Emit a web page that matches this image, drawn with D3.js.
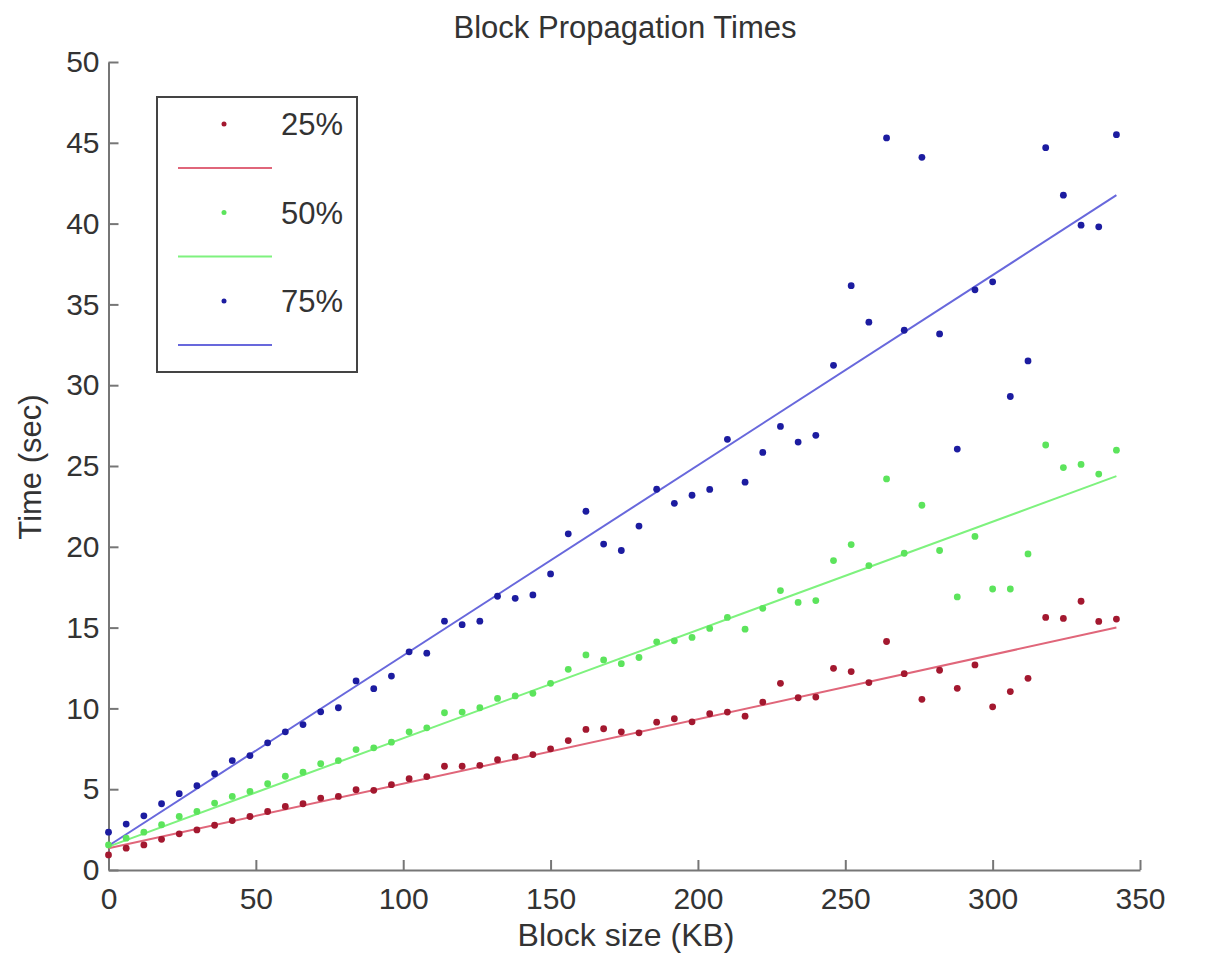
<!DOCTYPE html>
<html>
<head>
<meta charset="utf-8">
<script src="https://cdn.jsdelivr.net/npm/d3@7"></script>
<style>
  body { margin: 0; background: #fff; }
  text { font-family: "Liberation Sans", Arial, sans-serif; fill: #333; }
</style>
</head>
<body>
<div id="chart"></div>
<script>
const width = 1222;
const height = 958;

// block size (KB)
const blockSizes = [0, 6, 12, 18, 24, 30, 36, 42, 48, 54, 60, 66, 72, 78, 84, 90, 96, 102, 108, 114,
  120, 126, 132, 138, 144, 150, 156, 162, 168, 174, 180, 186, 192, 198, 204, 210, 216, 222, 228, 234,
  240, 246, 252, 258, 264, 270, 276, 282, 288, 294, 300, 306, 312, 318, 324, 330, 336, 342];

// propagation time (sec)
const p25 = [0.93, 1.35, 1.55, 1.9, 2.24, 2.48, 2.77, 3.06, 3.31, 3.62, 3.93, 4.1, 4.45, 4.55, 4.97, 4.93,
  5.28, 5.65, 5.78, 6.42, 6.42, 6.48, 6.83, 7.0, 7.14, 7.5, 8.01, 8.7, 8.74, 8.55, 8.49, 9.15, 9.36, 9.17,
  9.67, 9.77, 9.52, 10.39, 11.55, 10.66, 10.7, 12.48, 12.28, 11.6, 14.14, 12.15, 10.56, 12.36, 11.24,
  12.69, 10.1, 11.04, 11.86, 15.63, 15.57, 16.63, 15.38, 15.53];

const p50 = [1.55, 1.97, 2.34, 2.8, 3.31, 3.62, 4.14, 4.55, 4.86, 5.34, 5.8, 6.05, 6.58, 6.77, 7.45, 7.56,
  7.91, 8.55, 8.8, 9.73, 9.77, 10.04, 10.62, 10.77, 10.93, 11.55, 12.42, 13.31, 13.0, 12.77, 13.15, 14.12,
  14.18, 14.39, 14.95, 15.63, 14.9, 16.19, 17.29, 16.56, 16.67, 19.15, 20.14, 18.84, 24.2, 19.6, 22.57,
  19.77, 16.9, 20.64, 17.39, 17.39, 19.56, 26.3, 24.9, 25.1, 24.5, 25.98];

const p75 = [2.34, 2.84, 3.35, 4.1, 4.72, 5.22, 5.96, 6.77, 7.08, 7.87, 8.55, 9.0, 9.79, 10.04, 11.7, 11.22,
  12.0, 13.5, 13.42, 15.4, 15.18, 15.4, 16.94, 16.81, 17.02, 18.32, 20.8, 22.2, 20.17, 19.77, 21.28, 23.56,
  22.69, 23.19, 23.55, 26.65, 24.0, 25.84, 27.45, 26.48, 26.9, 31.23, 36.16, 33.9, 45.3, 33.4, 44.1, 33.17,
  26.05, 35.9, 36.4, 29.3, 31.5, 44.7, 41.76, 39.9, 39.8, 45.5];

// fitted lines, end points
const fit25 = [[0, 1.35], [342, 15.0]];
const fit50 = [[0, 1.45], [342, 24.37]];
const fit75 = [[0, 1.5], [342, 41.76]];

const xTicks = [0, 50, 100, 150, 200, 250, 300, 350];
const yTicks = [0, 5, 10, 15, 20, 25, 30, 35, 40, 45, 50];

const series = [
  { label: "25%", values: p25, fit: fit25, dot: "#a3182f", line: "#e0667a" },
  { label: "50%", values: p50, fit: fit50, dot: "#5ce45c", line: "#7ef27e" },
  { label: "75%", values: p75, fit: fit75, dot: "#1c1ca0", line: "#6868dc" }
];

const svg = d3.select("#chart")
  .append("svg")
  .attr("width", width)
  .attr("height", height);

const x = d3.scaleLinear().domain([0, 350]).range([108.5, 1140]);
const y = d3.scaleLinear().domain([0, 50]).range([870, 62]);

// axes (ticks point inward, no box)
const xAxis = svg.append("g")
  .attr("transform", `translate(0,${y(0)})`)
  .call(d3.axisBottom(x).tickValues(xTicks).tickSizeInner(-10).tickSizeOuter(0).tickPadding(18));

const yAxis = svg.append("g")
  .attr("transform", `translate(${x(0)},0)`)
  .call(d3.axisLeft(y).tickValues(yTicks).tickSizeInner(-10).tickSizeOuter(0).tickPadding(9));

[xAxis, yAxis].forEach(g => {
  g.select(".domain").attr("stroke", "#767676").attr("stroke-width", 2);
  g.selectAll(".tick line").attr("stroke", "#767676").attr("stroke-width", 2);
  g.selectAll(".tick text")
    .attr("fill", "#333")
    .style("font-size", "30px")
    .style("font-family", "'Liberation Sans', Arial, sans-serif");
});

// fit lines
series.forEach(s => {
  svg.append("line")
    .attr("x1", x(s.fit[0][0]))
    .attr("y1", y(s.fit[0][1]))
    .attr("x2", x(s.fit[1][0]))
    .attr("y2", y(s.fit[1][1]))
    .attr("stroke", s.line)
    .attr("stroke-width", 2);
});

// data points
series.forEach(s => {
  svg.append("g")
    .selectAll("circle")
    .data(s.values)
    .join("circle")
    .attr("cx", (d, i) => x(blockSizes[i]))
    .attr("cy", d => y(d))
    .attr("r", 3.4)
    .attr("fill", s.dot);
});

// title and axis labels
svg.append("text")
  .attr("x", 625)
  .attr("y", 38)
  .attr("text-anchor", "middle")
  .style("font-size", "31px")
  .text("Block Propagation Times");

svg.append("text")
  .attr("x", 626)
  .attr("y", 946)
  .attr("text-anchor", "middle")
  .style("font-size", "32px")
  .text("Block size (KB)");

svg.append("text")
  .attr("transform", "translate(41,467) rotate(-90)")
  .attr("text-anchor", "middle")
  .style("font-size", "31px")
  .text("Time (sec)");

// legend
const legend = svg.append("g");
legend.append("rect")
  .attr("x", 157)
  .attr("y", 97)
  .attr("width", 200)
  .attr("height", 275)
  .attr("fill", "#fff")
  .attr("stroke", "#444")
  .attr("stroke-width", 2);

series.forEach((s, i) => {
  const top = 124 + i * 88.5;
  legend.append("circle")
    .attr("cx", 224)
    .attr("cy", top)
    .attr("r", 2.5)
    .attr("fill", s.dot);
  legend.append("line")
    .attr("x1", 178)
    .attr("x2", 272)
    .attr("y1", top + 44)
    .attr("y2", top + 44)
    .attr("stroke", s.line)
    .attr("stroke-width", 2);
  legend.append("text")
    .attr("x", 281)
    .attr("y", top + 11)
    .style("font-size", "31px")
    .text(s.label);
});
</script>
</body>
</html>
